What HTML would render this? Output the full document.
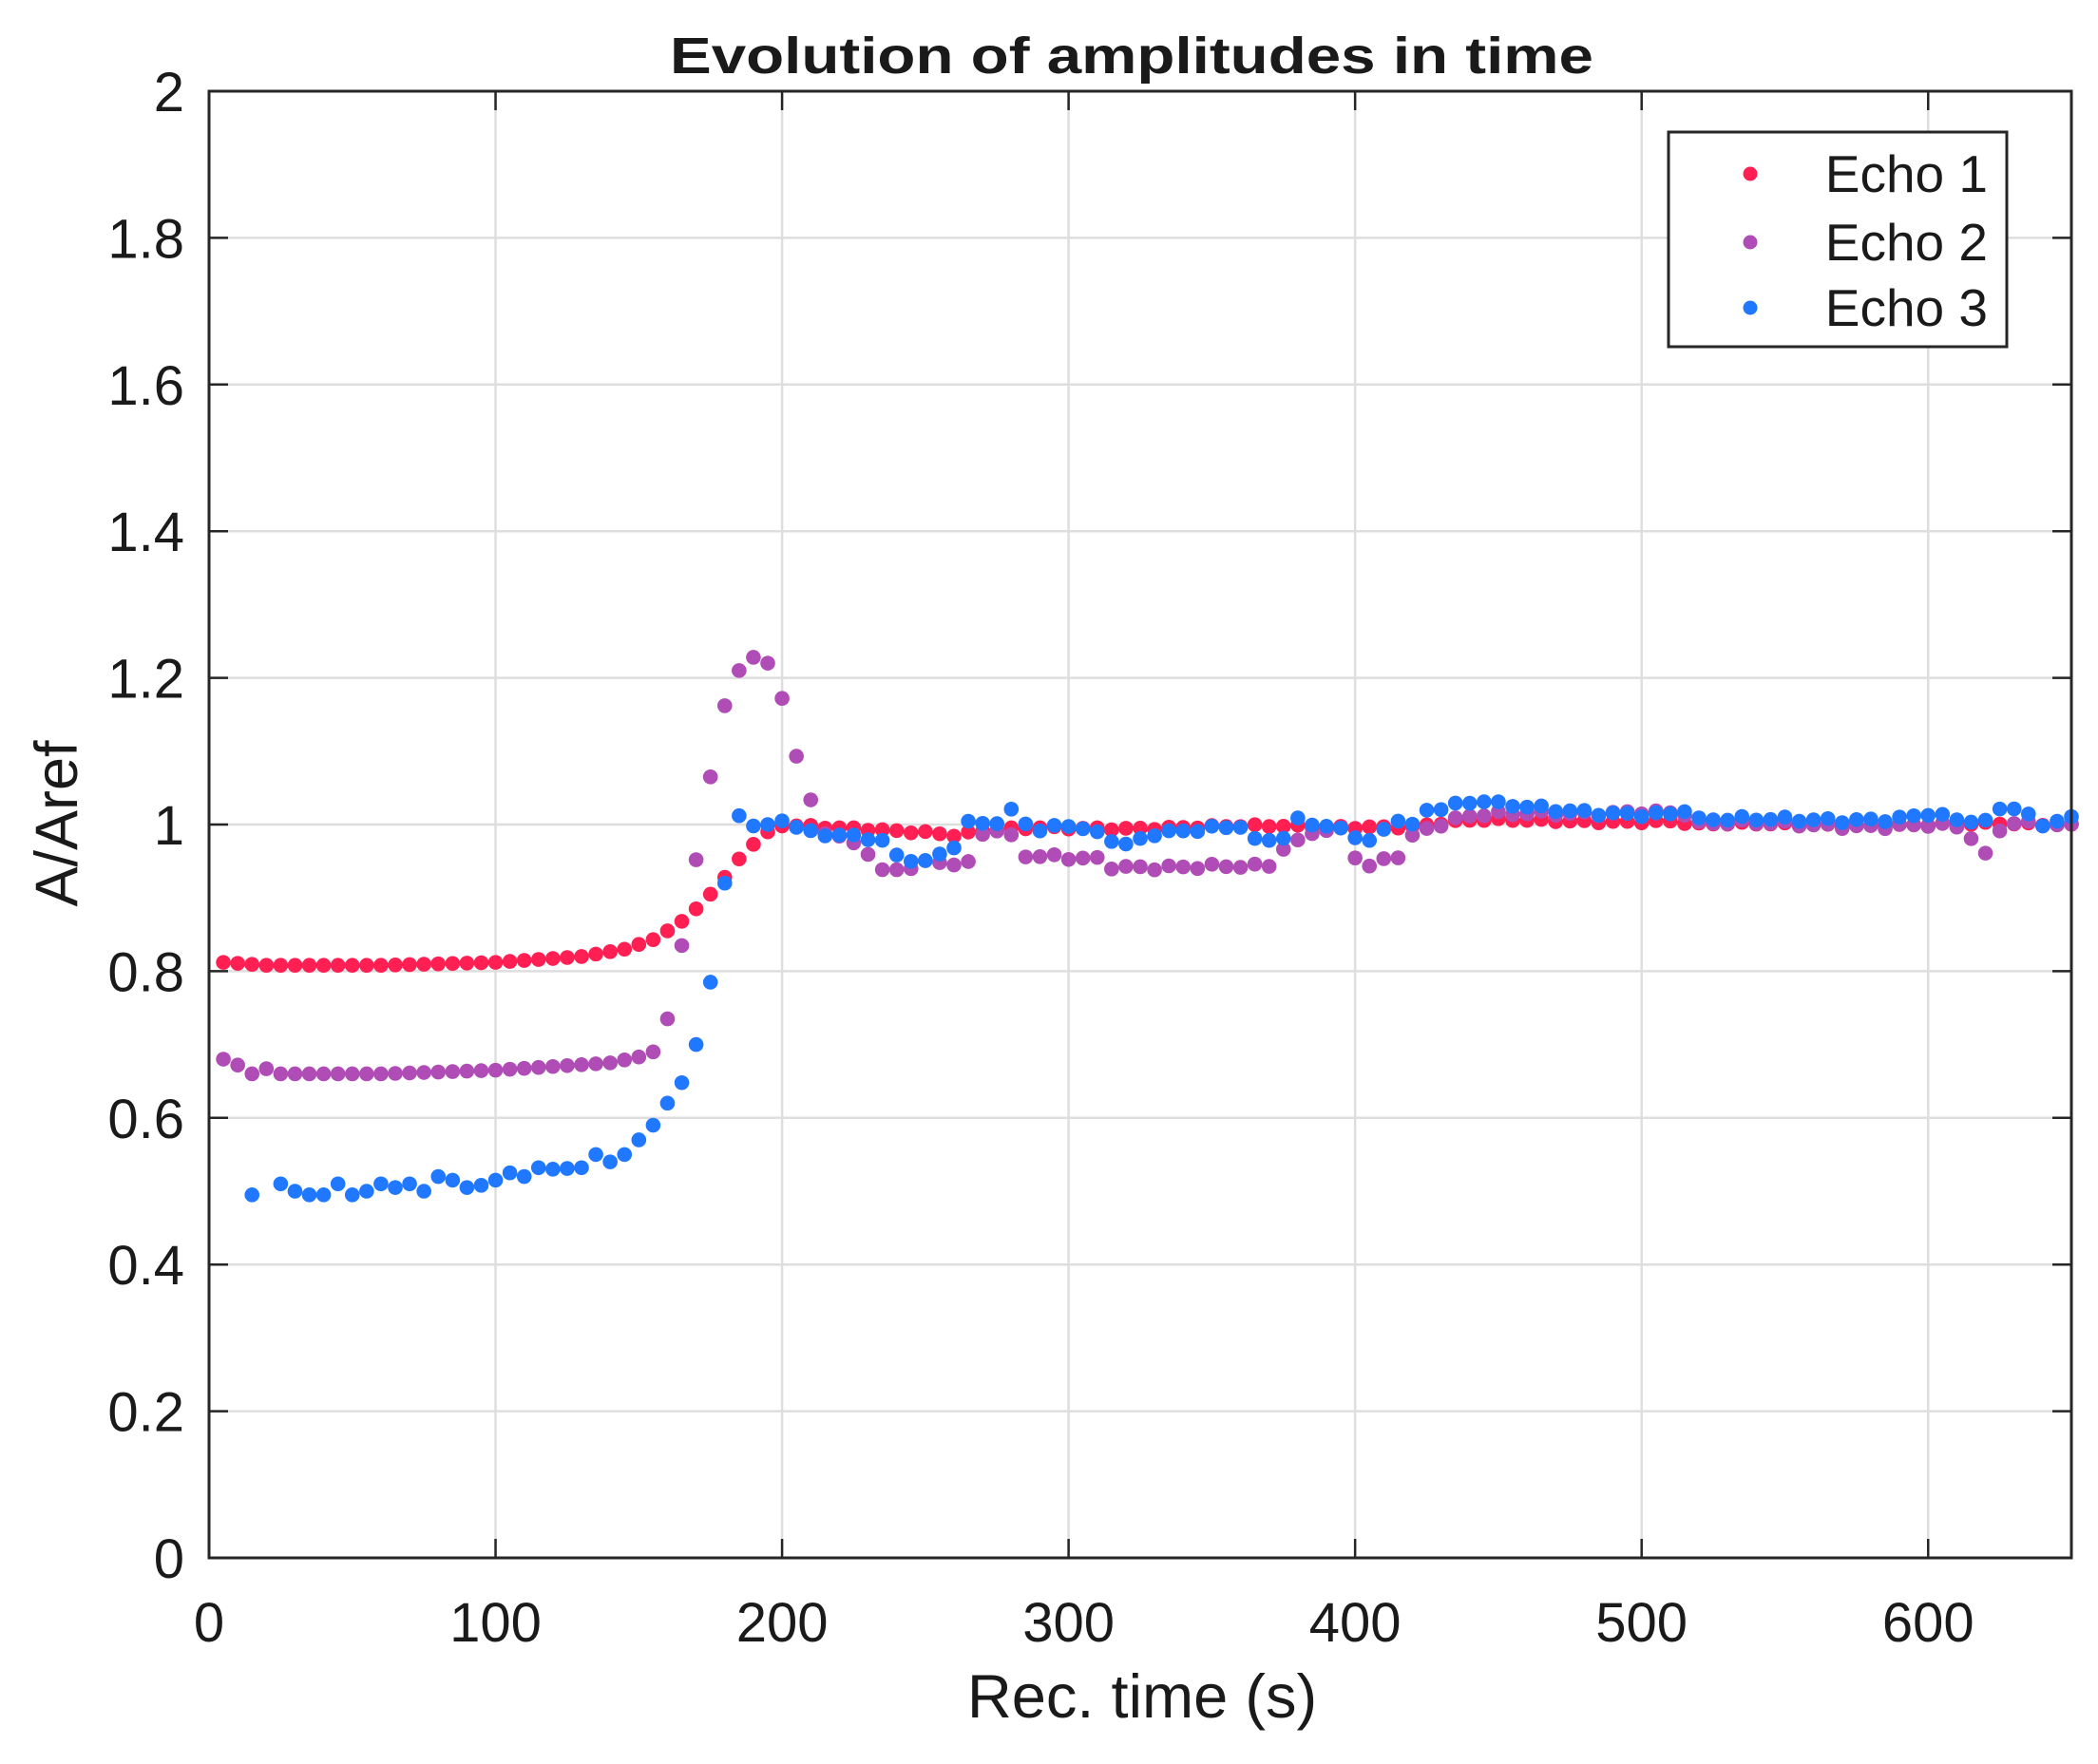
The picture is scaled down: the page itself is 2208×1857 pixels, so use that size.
<!DOCTYPE html>
<html><head><meta charset="utf-8"><style>
html,body{margin:0;padding:0;background:#fff}
svg{display:block}
text{font-family:"Liberation Sans",Arial,sans-serif;fill:#1a1a1a}
</style></head><body>
<svg id="s" width="2208" height="1857" viewBox="0 0 2208 1857" xmlns="http://www.w3.org/2000/svg">
<rect width="2208" height="1857" fill="#fff"/>
<g id="grid" stroke="#dedede" stroke-width="2.5"></g>
<g id="ticks" stroke="#262626" stroke-width="2.5"></g>
<g id="lab" font-size="58"></g>
<g id="pts"></g>
<rect x="220" y="96" width="1960" height="1544" fill="none" stroke="#262626" stroke-width="3"/>
<text x="1191" y="77" font-size="54" font-weight="bold" text-anchor="middle" fill="#000" textLength="972" lengthAdjust="spacingAndGlyphs">Evolution of amplitudes in time</text>
<text x="1202" y="1808" font-size="65" text-anchor="middle">Rec. time (s)</text>
<text transform="translate(81,867) rotate(-90)" font-size="63" text-anchor="middle">A/Aref</text>
<rect x="1756" y="139" width="356" height="226" fill="#fff" stroke="#262626" stroke-width="3"/>
<circle cx="1842" cy="183" r="7.5" fill="#ff1f52"/>
<circle cx="1842" cy="255" r="7.5" fill="#b04cb5"/>
<circle cx="1842" cy="324" r="7.5" fill="#1f78ff"/>
<text x="2092" y="202" font-size="55" text-anchor="end" fill="#000">Echo 1</text>
<text x="2092" y="274" font-size="55" text-anchor="end" fill="#000">Echo 2</text>
<text x="2092" y="343" font-size="55" text-anchor="end" fill="#000">Echo 3</text>
</svg>
<script>
var NS="http://www.w3.org/2000/svg";
function X(v){return 220+v*3.0154;}
function Y(v){return 1640-v*772;}
function el(p,t,a,txt){var e=document.createElementNS(NS,t);for(var k in a)e.setAttribute(k,a[k]);if(txt!==undefined)e.textContent=txt;document.getElementById(p).appendChild(e);}
for(var i=1;i<=6;i++){var x=X(i*100);el('grid','line',{x1:x,y1:96,x2:x,y2:1640});el('ticks','line',{x1:x,y1:1640,x2:x,y2:1620});el('ticks','line',{x1:x,y1:96,x2:x,y2:116});}
for(var j=1;j<10;j++){var y=Y(j*0.2);el('grid','line',{x1:220,y1:y,x2:2180,y2:y});el('ticks','line',{x1:220,y1:y,x2:240,y2:y});el('ticks','line',{x1:2180,y1:y,x2:2160,y2:y});}
for(var i=0;i<=6;i++)el('lab','text',{x:X(i*100),y:1728,'text-anchor':'middle'},String(i*100));
var yl=['0','0.2','0.4','0.6','0.8','1','1.2','1.4','1.6','1.8','2'];
for(var j=0;j<=10;j++)el('lab','text',{x:194,y:Y(j*0.2)+21,'text-anchor':'end'},yl[j]);
function interp(k,x){for(var i=0;i<k.length-1;i++){if(x>=k[i][0]&&x<=k[i+1][0]){var t=(x-k[i][0])/(k[i+1][0]-k[i][0]);return k[i][1]+t*(k[i+1][1]-k[i][1]);}}return k[k.length-1][1];}
var e1=[[5,0.812],[20,0.808],[60,0.808],[100,0.812],[130,0.82],[145,0.83],[155,0.843],[160,0.855],[165,0.868],[170,0.885],[175,0.905],[180,0.928],[185,0.953],[190,0.973],[195,0.99],[200,0.998],[230,0.995],[250,0.99],[260,0.985],[270,0.99],[290,0.995],[420,0.998],[440,1.005],[510,1.005],[520,1.0],[650,1.0]];
var e2=[[5,0.68],[10,0.672],[15,0.66],[20,0.667],[25,0.66],[60,0.66],[100,0.665],[120,0.67],[140,0.675],[150,0.683],[155,0.69],[160,0.735],[165,0.835],[170,0.952],[175,1.065],[180,1.162],[185,1.21],[190,1.228],[195,1.22],[200,1.172],[205,1.092],[210,1.03],[215,0.99],[220,0.985],[225,0.975],[230,0.965],[235,0.94],[240,0.94],[245,0.945],[250,0.95],[265,0.945],[270,0.985],[275,0.99],[280,0.98],[285,0.955],[310,0.955],[315,0.945],[365,0.94],[370,0.942],[375,0.965],[380,0.975],[385,0.99],[395,0.995],[400,0.96],[405,0.945],[410,0.955],[415,0.96],[420,0.985],[425,0.995],[440,1.01],[470,1.015],[500,1.02],[515,1.015],[520,1.0],[600,1.0],[610,0.995],[615,0.98],[620,0.955],[625,0.99],[630,1.0],[650,1.0]];
var e3=[[15,0.495],[25,0.51],[30,0.5],[35,0.495],[40,0.495],[45,0.51],[50,0.495],[55,0.5],[60,0.51],[65,0.505],[70,0.51],[75,0.5],[80,0.52],[85,0.515],[90,0.505],[95,0.508],[100,0.515],[105,0.525],[110,0.52],[115,0.532],[120,0.53],[130,0.532],[135,0.55],[140,0.54],[145,0.55],[150,0.57],[155,0.59],[160,0.62],[165,0.648],[170,0.7],[175,0.785],[180,0.92],[185,1.012],[190,0.998],[195,1.0],[200,1.005],[205,0.995],[210,0.988],[230,0.985],[235,0.98],[240,0.96],[245,0.955],[250,0.95],[255,0.96],[260,0.97],[265,1.0],[275,1.0],[280,1.015],[285,1.0],[290,0.99],[300,1.0],[310,0.99],[320,0.975],[330,0.99],[360,0.995],[365,0.975],[375,0.98],[380,1.005],[395,0.995],[405,0.98],[415,1.01],[420,1.0],[425,1.02],[445,1.03],[450,1.025],[470,1.02],[510,1.015],[515,1.02],[520,1.005],[540,1.005],[590,1.01],[600,1.015],[610,1.005],[620,1.0],[625,1.02],[630,1.02],[640,1.0],[650,1.01]];
function noise(x,a){return a*Math.sin(x*1.7)*Math.cos(x*0.37);}
function plot(k,c,start,nz){for(var x=start;x<=650;x+=5){if(c=='#1f78ff'&&x==20)continue;var v=interp(k,x)+(x>200?noise(x,nz):0);el('pts','circle',{cx:X(x),cy:Y(v),r:7.8,fill:c});}}
plot(e1,'#ff1f52',5,0.003);
plot(e2,'#b04cb5',5,0.006);
plot(e3,'#1f78ff',15,0.006);
</script>
</body></html>
